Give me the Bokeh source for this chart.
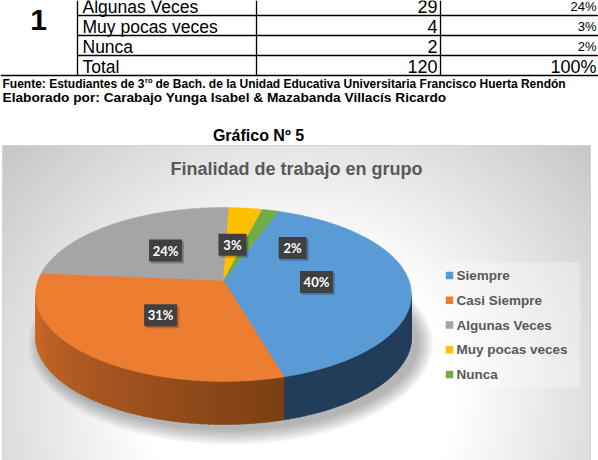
import numpy as np
from bokeh.plotting import figure
from bokeh.models import Range1d
from bokeh.core.properties import value
from bokeh.embed import file_html
from bokeh.resources import INLINE

# ---------------- data ----------------
categories = ["Siempre", "Casi Siempre", "Algunas Veces", "Muy pocas veces", "Nunca"]
counts = [48, 37, 29, 4, 2]
colors = ["#5B9BD5", "#ED7D31", "#A5A5A5", "#FFC000", "#70AD47"]
side_dark = {"Siempre": ("#223D5A", "#223D5A"), "Casi Siempre": ("#7A3F15", "#CF6B2A")}
chart_title = "Finalidad de trabajo en grupo"
figure_title = "Gráfico Nº 5"
item_number = "1"
total_label = "Total"
source_a = "Fuente: Estudiantes de 3"
source_sup = "ro"
source_b = "de Bach. de la Unidad Educativa Universitaria Francisco Huerta Rendón"
author_note = "Elaborado por: Carabajo Yunga Isabel &  Mazabanda Villacís Ricardo"

total = sum(counts)
pcts = [round(100 * c / total) for c in counts]
pct_labels = [f"{v}%" for v in pcts]
table_rows = categories[2:] + [total_label]
table_counts = counts[2:] + [total]
table_pcts = pct_labels[2:] + ["100%"]

# ---------------- layout constants ----------------
W, H = 598, 460
def Y(y):
    return H - np.asarray(y, dtype=float)

p = figure(width=W, height=H, x_range=Range1d(0, W), y_range=Range1d(0, H),
           output_backend="svg", toolbar_location=None, min_border=0,
           x_axis_location=None, y_axis_location=None)
p.grid.visible = False
p.outline_line_color = None
p.background_fill_color = "white"
p.border_fill_color = "white"

# ---------------- chart area background (radial gray gradient) ----------------
fx0, fx1, fy0, fy1 = 2, 590, 145, 460
gw, gh = fx1 - fx0, fy1 - fy0
xs = fx0 + 0.5 + np.arange(gw)
ys = fy1 - 0.5 - np.arange(gh)          # row 0 = bottom
XX, YY = np.meshgrid(xs, ys)
d = np.sqrt(((XX - 300) / 310.0) ** 2 + ((YY - 400) / 300.0) ** 2)
t = np.clip((d - 0.5) / 0.8, 0, 1)
g = (255 - 58 * t).astype(np.uint8)
img = np.empty((gh, gw), dtype=np.uint32)
v = img.view(dtype=np.uint8).reshape((gh, gw, 4))
v[:, :, 0] = g; v[:, :, 1] = g; v[:, :, 2] = g; v[:, :, 3] = 255
p.image_rgba(image=[img], x=fx0, y=float(Y(fy1)), dw=gw, dh=gh)
p.quad(left=[fx0], right=[fx1], top=[float(Y(fy0))], bottom=[float(Y(fy1 + 2))],
       fill_color=None, line_color="#D4D4D4", line_width=1)

# ---------------- titles ----------------
p.text(x=[258], y=Y([135]), text=[figure_title], text_font=value("Liberation Sans"),
       text_font_style="bold", text_font_size="16px", text_color="black",
       text_align="center", text_baseline="middle")
p.text(x=[296], y=Y([168]), text=[chart_title], text_font=value("Liberation Sans"),
       text_font_style="bold", text_font_size="18px", text_color="#595959",
       text_align="center", text_baseline="middle")

# ---------------- 3D pie ----------------
CX, CY, SX, SY, K, DEPTH, ROT = 223.0, 280.0, 185.5, 84.7, 0.161, 43.0, 20.0

def rim(phi_deg, r=1.0, dy=0.0):
    ph = np.radians(phi_deg)
    X = r * np.sin(ph); Z = r * np.cos(ph)
    w = 1 + K * Z
    return CX + SX * X / w, CY - SY * Z / w + dy

frac = np.array(counts, dtype=float) / total
ends = ROT + 360 * np.cumsum(frac)
starts = np.concatenate([[ROT], ends[:-1]])

# shadow
ecy = CY + SY * K / (1 - K * K)
erx = SX / np.sqrt(1 - K * K)
ery = SY / (1 - K * K)
for i in range(9):
    p.ellipse(x=[CX + 7], y=Y([ecy + DEPTH + 6]), width=[2 * (erx + 1.8 * i)],
              height=[2 * (ery + 1.8 * i)], fill_color="black", fill_alpha=0.034,
              line_color=None)

def mix(c1, c2, tt):
    a = [int(c1[i:i + 2], 16) for i in (1, 3, 5)]
    b = [int(c2[i:i + 2], 16) for i in (1, 3, 5)]
    return "#%02x%02x%02x" % tuple(int(round(a[j] + (b[j] - a[j]) * tt)) for j in range(3))

vis_lo = np.degrees(np.arccos(-K))
vis_hi = 360 - vis_lo
for cat, a, b in zip(categories, starts, ends):
    lo, hi = max(a, vis_lo), min(b, vis_hi)
    if hi <= lo:
        continue
    c_near, c_far = side_dark.get(cat, ("#555555", "#555555"))
    n = max(1, int((hi - lo) / 1.5))
    edges = np.linspace(lo, hi, n + 1)
    pxs, pys, pcs = [], [], []
    for j in range(n):
        ph = np.linspace(edges[j], edges[j + 1] + 0.3, 4)
        tx, ty = rim(ph)
        bx, by = rim(ph[::-1], dy=DEPTH)
        pxs.append(np.concatenate([tx, bx]))
        pys.append(Y(np.concatenate([ty, by])))
        tt = ((edges[j] + edges[j + 1]) / 2 - lo) / max(hi - lo, 1e-9)
        pcs.append(mix(c_near, c_far, tt))
    p.patches(xs=pxs, ys=pys, fill_color=pcs, line_color=pcs, line_width=0.6)

# top faces
txs, tys = [], []
for a, b in zip(starts, ends):
    ph = np.linspace(a, b, max(3, int((b - a) * 2)))
    rx, ry = rim(ph)
    txs.append(np.concatenate([[CX], rx]))
    tys.append(Y(np.concatenate([[CY], ry])))
p.patches(xs=txs, ys=tys, fill_color=colors, line_color=colors, line_width=0.5)

# data labels
nudge = {"Muy pocas veces": (-3, 3), "Nunca": (44, 5)}
lx, ly, lw = [], [], []
for cat, a, b, lab in zip(categories, starts, ends, pct_labels):
    x0, y0 = rim((a + b) / 2, r=0.5)
    dx, dy = nudge.get(cat, (0, 0))
    lx.append(float(x0 + dx)); ly.append(float(y0 + dy)); lw.append(18 + 5 * len(lab))
p.rect(x=[x + 2 for x in lx], y=Y([y + 2 for y in ly]), width=lw, height=22,
       fill_color="black", fill_alpha=0.22, line_color=None)
p.rect(x=lx, y=Y(ly), width=lw, height=22, fill_color="#404040", line_color=None)
p.text(x=lx, y=Y(ly), text=pct_labels, text_font=value("Lato"), text_font_style="bold",
       text_font_size="13px", text_color="white", text_align="center", text_baseline="middle")

# legend
leg_y = [275 + 24.75 * i for i in range(len(categories))]
p.quad(left=[443], right=[580], top=Y([262]), bottom=Y([387]),
       fill_color="white", fill_alpha=0.3, line_color=None)
p.scatter(x=[449] * len(categories), y=Y(leg_y), marker="square", size=7.5,
          fill_color=colors, line_color=None)
p.text(x=[456] * len(categories), y=Y(leg_y), text=categories,
       text_font=value("Liberation Sans"), text_font_style="bold", text_font_size="13.5px",
       text_color="#595959", text_align="left", text_baseline="middle")

# ---------------- table fragment ----------------
row_y = [6 + 20 * i for i in range(len(table_rows))]
hl = [15 + 20 * i for i in range(len(table_rows))]
p.segment(x0=[77] * (len(hl) - 1) + [0], x1=[598] * len(hl), y0=Y(hl), y1=Y(hl),
          line_color="black", line_width=1.3)
p.segment(x0=[77, 256, 440], x1=[77, 256, 440], y0=Y([0] * 3), y1=Y([75] * 3),
          line_color="black", line_width=1.3)
p.text(x=[82] * len(table_rows), y=Y(row_y), text=table_rows, text_font=value("Liberation Sans"),
       text_font_size="17.5px", text_color="black", text_align="left", text_baseline="middle")
p.text(x=[437] * len(table_rows), y=Y(row_y), text=[str(c) for c in table_counts],
       text_font=value("Liberation Sans"), text_font_size="18px", text_color="black",
       text_align="right", text_baseline="middle")
p.text(x=[596] * len(table_rows), y=Y(row_y), text=table_pcts,
       text_font=value("Liberation Sans"),
       text_font_size=["13px"] * (len(table_pcts) - 1) + ["18px"],
       text_color="black", text_align="right", text_baseline="middle")
p.text(x=[38], y=Y([19]), text=[item_number], text_font=value("Liberation Sans"),
       text_font_style="bold", text_font_size="30px", text_color="black",
       text_align="center", text_baseline="middle")

# notes
p.text(x=[2], y=Y([83]), text=[source_a], text_font=value("Liberation Sans"),
       text_font_style="bold", text_font_size="12px", text_color="black",
       text_align="left", text_baseline="middle")
p.text(x=[144.5], y=Y([80]), text=[source_sup], text_font=value("Liberation Sans"),
       text_font_style="bold", text_font_size="7.5px", text_color="black",
       text_align="left", text_baseline="middle")
p.text(x=[155], y=Y([83]), text=[source_b], text_font=value("Liberation Sans"),
       text_font_style="bold", text_font_size="12px", text_color="black",
       text_align="left", text_baseline="middle")
p.text(x=[2], y=Y([97]), text=[author_note], text_font=value("Liberation Sans"),
       text_font_style="bold", text_font_size="13.7px", text_color="black",
       text_align="left", text_baseline="middle")

open("out.html", "w").write(file_html(p, INLINE))
